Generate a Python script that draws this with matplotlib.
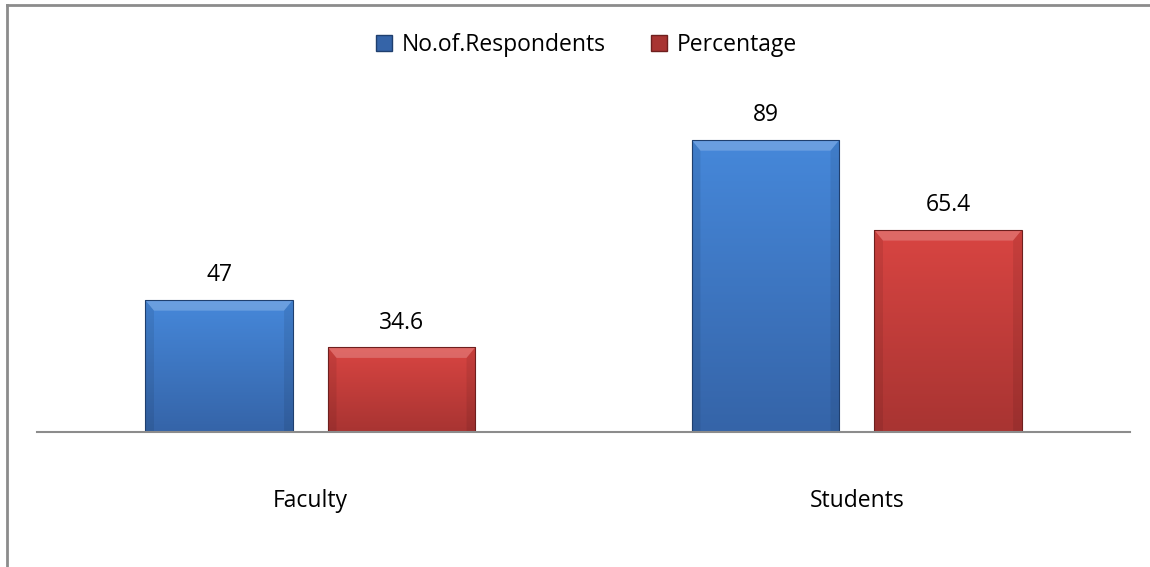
# Respondents chart - faculty vs students
import numpy as np
import matplotlib.pyplot as plt
from matplotlib.patches import Patch, Polygon
from matplotlib.colors import LinearSegmentedColormap
from matplotlib.lines import Line2D

plt.rcParams['font.family'] = ['Open Sans', 'DejaVu Sans']

categorias = ['Faculty', 'Students']
respondentes = [47, 89]
porcentaje = [34.6, 65.4]
etiquetas_resp = ['47', '89']
etiquetas_pct = ['34.6', '65.4']
series = ['No.of.Respondents', 'Percentage']

# colores: claro arriba, oscuro abajo
azul = ('#4688da', '#3564a8')
rojo = ('#d94542', '#a83432')

fig = plt.figure(figsize=(11.5, 5.67), dpi=100)
ax = fig.add_axes([0.0322, 0.2381, 0.9504, 0.5855])
ymin, ymax = 12.35, 99.5
ax.set_xlim(-0.5, 1.5)
ax.set_ylim(ymin, ymax)

x = np.arange(len(categorias))
ancho = 0.27
desp = 0.167

def barra_gradiente(b, colores):
    x0, w, h = b.get_x(), b.get_width(), b.get_height()
    cmap = LinearSegmentedColormap.from_list('g', [colores[1], colores[0]])
    grad = np.linspace(0, 1, 256).reshape(-1, 1)
    im = ax.imshow(grad, cmap=cmap, origin='lower', aspect='auto',
                   extent=[x0, x0 + w, ymin, h], zorder=2)
    im.set_clip_path(b)
    # bisel superior
    dy = 2.8
    dx = 0.016
    top = Polygon([[x0, h], [x0 + w, h], [x0 + w - dx, h - dy], [x0 + dx, h - dy]],
                  closed=True, facecolor='white', alpha=0.2, lw=0, zorder=3)
    ax.add_patch(top)
    # laterales oscuros
    for xs in ([x0, x0 + dx], [x0 + w, x0 + w - dx]):
        lado = Polygon([[xs[0], ymin], [xs[0], h], [xs[1], h - dy], [xs[1], ymin]],
                       closed=True, facecolor='black', alpha=0.08, lw=0, zorder=3)
        ax.add_patch(lado)
    b.set_zorder(4)

barras1 = ax.bar(x - desp, respondentes, ancho, facecolor='none',
                 edgecolor='#1f3f6e', linewidth=0.8)
barras2 = ax.bar(x + desp, porcentaje, ancho, facecolor='none',
                 edgecolor='#6e1f1e', linewidth=0.8)
for b in barras1:
    barra_gradiente(b, azul)
for b in barras2:
    barra_gradiente(b, rojo)

for b, t in zip(barras1, etiquetas_resp):
    ax.text(b.get_x() + b.get_width() / 2, b.get_height() + 3.3, t,
            ha='center', va='bottom', fontsize=16.5, color='black')
for b, t in zip(barras2, etiquetas_pct):
    ax.text(b.get_x() + b.get_width() / 2, b.get_height() + 3.3, t,
            ha='center', va='bottom', fontsize=16.5, color='black')

ax.set_xticks(x)
ax.set_xticklabels(categorias, fontsize=16.5)
ax.tick_params(axis='x', length=0, pad=41)
ax.set_yticks([])
for s in ['top', 'right', 'left']:
    ax.spines[s].set_visible(False)
ax.spines['bottom'].set_color('#8c8c8c')
ax.spines['bottom'].set_linewidth(1.5)
ax.spines['bottom'].set_zorder(5)

handles = [Patch(facecolor=azul[1], edgecolor='#1f3f6e', label=series[0]),
           Patch(facecolor=rojo[1], edgecolor='#6e1f1e', label=series[1])]
fig.legend(handles=handles, loc='center', bbox_to_anchor=(0.51, 0.921), ncol=2,
           frameon=False, fontsize=16.5, handlelength=0.7, handleheight=0.7,
           handletextpad=0.4, columnspacing=2.0)

# borde del grafico
fig.add_artist(Line2D([0.0061, 0.0061], [0, 0.9912], color='#8c8c8c', lw=2))
fig.add_artist(Line2D([0.0061, 1.0], [0.9912, 0.9912], color='#8c8c8c', lw=2))

plt.savefig('out.png')
